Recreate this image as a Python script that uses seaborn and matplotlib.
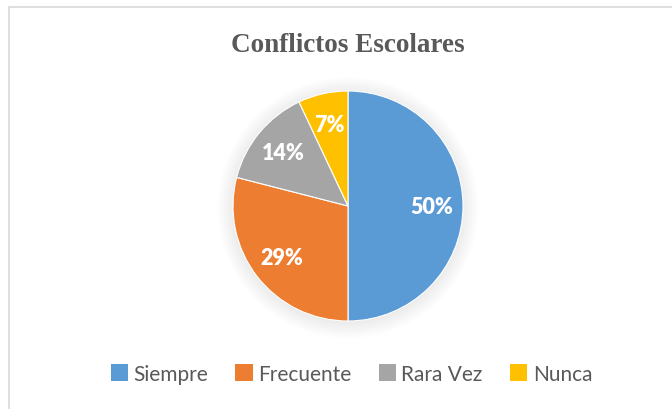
import matplotlib
matplotlib.use("Agg")
import matplotlib.pyplot as plt
import seaborn as sns
from matplotlib.patches import Patch, Circle, Rectangle

# Data
categories = ["Siempre", "Frecuente", "Rara Vez", "Nunca"]
values = [50, 29, 14, 7]
colors = ["#5B9BD5", "#ED7D31", "#A5A5A5", "#FFC000"]
title = "Conflictos Escolares"

sns.set_style("white")
plt.rcParams['font.family'] = ['Lato', 'DejaVu Sans']

W, H = 672, 410
fig = plt.figure(figsize=(W / 100, H / 100), dpi=100)
fig.patch.set_facecolor("white")

# chart border (only top and left visible)
fig.add_artist(Rectangle((9 / W, -0.1), 1.2, (H - 8) / H + 0.1, transform=fig.transFigure,
                         facecolor="none", edgecolor="#d9d9d9", linewidth=1.2))

cx, cy, r = 348, 207, 115
ax = fig.add_axes([(cx - r) / W, (H - cy - r) / H, 2 * r / W, 2 * r / H])

# soft shadow round the pie
for i in range(10):
    ax.add_patch(Circle((0, -0.015), 1.0 + 0.015 * i, color="black", alpha=0.009, zorder=0,
                        linewidth=0, clip_on=False))

wedges, texts, autotexts = ax.pie(values, colors=colors, startangle=90, counterclock=False,
                                  autopct="%1.0f%%", pctdistance=0.73,
                                  wedgeprops=dict(edgecolor="white", linewidth=0.8),
                                  textprops=dict(color="white", fontsize=15.5, fontweight="heavy"))
for w in wedges:
    w.set_zorder(2)
ax.set_xlim(-1, 1)
ax.set_ylim(-1, 1)
ax.set_aspect("equal")
ax.axis("off")

fig.text(cx / W, 1 - 45 / H, title, ha="center", va="center", fontsize=19.5,
         fontweight="bold", color="#595959", family="Liberation Serif")

handles = [Patch(facecolor=c, edgecolor="none") for c in colors]
fig.legend(handles, categories, loc="center", bbox_to_anchor=(cx / W + 0.005, 1 - 375 / H), ncol=4,
           frameon=False, fontsize=15, labelcolor="#595959", handlelength=0.85, handleheight=0.85,
           handletextpad=0.25, columnspacing=1.3)

plt.savefig("out.png", dpi=100)
